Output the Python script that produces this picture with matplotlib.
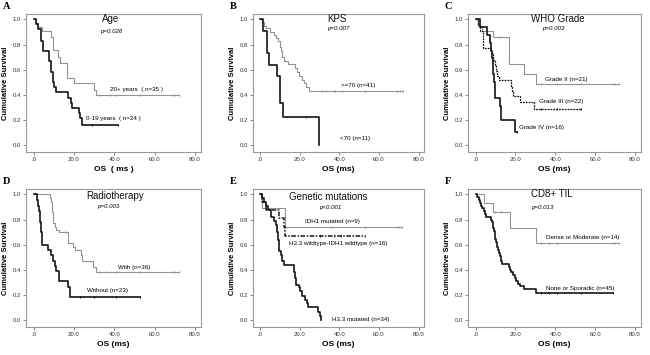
import matplotlib
matplotlib.use("Agg")
import matplotlib.pyplot as plt
import numpy as np

plt.rcParams['font.family'] = ['Liberation Sans', 'DejaVu Sans']

# ---- A: Age ----
age_old_t = [1, 2, 4, 8.5, 9.5, 12, 13, 16.6, 20, 30, 31]
age_old_s = [0.97, 0.94, 0.91, 0.86, 0.76, 0.70, 0.65, 0.53, 0.49, 0.44, 0.40]
age_old_cens = [33, 38, 41, 53, 69, 70, 72]
age_young_t = [1, 2, 3.5, 4.4, 7.4, 8.5, 9.4, 10, 11, 17, 18.3, 19, 22.4, 23.2, 24]
age_young_s = [0.96, 0.92, 0.83, 0.75, 0.67, 0.58, 0.50, 0.46, 0.42, 0.375, 0.33, 0.29, 0.25, 0.21, 0.16]
age_young_cens = [29, 42]

# ---- B: KPS ----
kps_high_t = [1, 2, 3, 5, 7, 8, 9, 10, 10.5, 11, 12, 14, 17.5, 18.5, 19.5, 21, 22, 23, 24.5]
kps_high_s = [0.98, 0.95, 0.93, 0.90, 0.88, 0.85, 0.83, 0.78, 0.75, 0.70, 0.67, 0.645,
              0.61, 0.58, 0.55, 0.52, 0.49, 0.46, 0.43]
kps_high_cens = [12.5, 31, 33, 37, 38, 41.5, 53, 69, 70.5, 72]
kps_low_t = [1.5, 3.2, 4.5, 8.2, 9.8, 11.5, 29.5]
kps_low_s = [0.91, 0.73, 0.64, 0.55, 0.33, 0.22, 0.0]
kps_low_cens = [23]

# ---- C: WHO grade ----
g2_t = [1, 3, 9, 17, 24.4, 30.4]
g2_s = [0.95, 0.905, 0.86, 0.645, 0.565, 0.485]
g2_cens = [12, 33, 41, 53, 69, 70, 72]
g3_t = [1, 2, 3.7, 7.5, 9, 10, 10.5, 11, 11.6, 17.8, 18.4, 19, 22.4, 29.4]
g3_s = [0.955, 0.91, 0.77, 0.73, 0.68, 0.64, 0.59, 0.55, 0.52, 0.47, 0.43, 0.39, 0.34, 0.285]
g3_cens = [33, 41, 53]
g4_t = [2, 5.5, 7, 7.5, 8, 8.5, 9, 9.3, 9.6, 10, 12.1, 12.8, 19.6]
g4_s = [0.94, 0.875, 0.81, 0.75, 0.69, 0.625, 0.5625, 0.5, 0.4375, 0.375, 0.31, 0.20, 0.10]
g4_cens = [12.4, 21]

# ---- D: Radiotherapy ----
rt_with_t = [8, 8.5, 9.3, 9.7, 10.5, 11.3, 12.4, 16.9, 19.7, 20.7, 23.5, 24, 29.7, 31]
rt_with_s = [0.97, 0.94, 0.86, 0.77, 0.74, 0.72, 0.70, 0.61, 0.58, 0.555, 0.52, 0.47, 0.42, 0.38]
rt_with_cens = [16, 33, 36, 41, 53, 69, 70, 72]
rt_without_t = [1.5, 2, 2.7, 3.3, 3.7, 4.3, 7.2, 8.5, 9.7, 10.5, 11.3, 12.4, 17, 18]
rt_without_s = [0.96, 0.91, 0.87, 0.78, 0.70, 0.60, 0.56, 0.52, 0.47, 0.43, 0.39, 0.31, 0.26, 0.18]
rt_without_cens = [23, 30, 41, 53]

# ---- E: Genetic mutations ----
idh_t = [0.8, 12.7]
idh_s = [0.89, 0.74]
idh_cens = [36, 53, 69, 70, 71.5]
wt_t = [1, 2.8, 9.4, 11.8, 12.7]
wt_s = [0.94, 0.875, 0.81, 0.74, 0.67]
wt_cens = [30, 37, 41, 53]
h33_t = [1, 2, 3, 4, 5.3, 7, 7.8, 8.3, 8.9, 9.2, 9.6, 10.2, 11, 11.9, 16.9, 17.1, 17.3,
         18, 19.3, 20.2, 21.3, 22.6, 23.5, 24.3, 29.3, 30, 30.6]
h33_s = [0.97, 0.94, 0.91, 0.88, 0.82, 0.79, 0.76, 0.70, 0.64, 0.59, 0.55, 0.52, 0.47, 0.44,
         0.41, 0.38, 0.33, 0.28, 0.26, 0.23, 0.19, 0.16, 0.13, 0.10, 0.065, 0.03, 0.0]
h33_cens = []

# ---- F: CD8+ TIL ----
dense_t = [4.1, 8.7, 17.3, 30.5]
dense_s = [0.93, 0.86, 0.73, 0.61]
dense_cens = [10, 13, 33, 37, 41, 69, 70, 72]
none_t = [0.8, 1.5, 2.2, 2.8, 3.3, 4, 4.6, 5.3, 7.5, 8, 8.5, 9, 9.3, 9.6, 9.8, 10, 10.3, 10.6,
          11, 11.5, 11.9, 12.3, 12.6, 12.9, 13.2, 16.8, 17.5, 18, 19, 19.7, 20.5, 21.5, 22.5,
          24.5, 30.5]
none_s = [0.978, 0.956, 0.933, 0.911, 0.889, 0.867, 0.844, 0.822, 0.80, 0.778, 0.756, 0.733,
          0.711, 0.689, 0.667, 0.644, 0.622, 0.60, 0.578, 0.556, 0.533, 0.511, 0.489, 0.467,
          0.444, 0.422, 0.40, 0.378, 0.356, 0.333, 0.311, 0.289, 0.267, 0.244, 0.21]
none_cens = [33, 37, 41, 53, 69]

GRAY = '#939393'
BLACK = '#151515'


def km_curve(ax, t, s, cens, color, lw, ls='-'):
    tt = np.array([0] + list(t), dtype=float)
    ss = np.array([1.0] + list(s), dtype=float)
    end = max([tt[-1]] + list(cens))
    tt = np.append(tt, end)
    ss = np.append(ss, ss[-1])
    ax.step(tt, ss, where='post', color=color, lw=lw, linestyle=ls)
    if cens:
        c = np.array(cens, dtype=float)
        idx = np.searchsorted(tt[:-1], c, side='right') - 1
        ax.plot(c, ss[idx], linestyle='none', marker='|', ms=2, mew=0.7, color=color)


def style_axes(ax, letter, title, ptext, xlabel, title_xy, p_xy):
    ax.set_xlim(-3.8, 83)
    ax.set_ylim(-0.058, 1.045)
    ax.set_xticks([0, 20, 40, 60, 80])
    ax.set_xticklabels(['.0', '20.0', '40.0', '60.0', '80.0'])
    ax.set_yticks([0, 0.2, 0.4, 0.6, 0.8, 1.0])
    ax.set_yticklabels(['0.0', '0.2', '0.4', '0.6', '0.8', '1.0'])
    ax.tick_params(labelsize=4.3, length=2, width=0.6, color='#777777',
                   labelcolor='#333333', pad=1.5)
    for sp in ax.spines.values():
        sp.set_color('#9a9a9a')
        sp.set_linewidth(0.8)
    ax.set_ylabel('Cumulative Survival', fontsize=5.5, fontweight='bold', labelpad=2.5)
    ax.set_xlabel(xlabel, fontsize=6, fontweight='bold', labelpad=3)
    ax.text(title_xy[0], title_xy[1], title, fontsize=7, ha='center', va='center',
            color='#111111')
    ax.text(p_xy[0], p_xy[1], ptext, fontsize=4.4, style='italic', ha='center', va='center')
    ax.text(-0.135, 1.02, letter, transform=ax.transAxes, fontsize=7.5, fontweight='bold',
            family='Liberation Serif', ha='left', va='bottom')


fig = plt.figure(figsize=(6.5, 3.55), dpi=100)
lefts = [0.040, 0.389, 0.720]
widths = [0.269, 0.264, 0.266]
bottoms = [0.572, 0.079]
H = 0.389
axes = []
for b in bottoms:
    for l, w in zip(lefts, widths):
        axes.append(fig.add_axes([l, b, w, H]))
axA, axB, axC, axD, axE, axF = axes

lbl = dict(fontsize=4.5, ha='left', va='center')

# A
km_curve(axA, age_old_t, age_old_s, age_old_cens, GRAY, 0.8)
km_curve(axA, age_young_t, age_young_s, age_young_cens, BLACK, 1.2)
style_axes(axA, 'A', 'Age', 'p=0.026', 'OS  ( ms )', (38, 1.0), (38.5, 0.9))
axA.text(37.7, 0.44, '20+ years  ( n=35 )', **lbl)
axA.text(26.2, 0.21, '0-19 years  ( n=24 )', **lbl)

# B
km_curve(axB, kps_high_t, kps_high_s, kps_high_cens, GRAY, 0.8)
km_curve(axB, kps_low_t, kps_low_s, kps_low_cens, BLACK, 1.2)
style_axes(axB, 'B', 'KPS', 'p=0.007', 'OS (ms)', (38.6, 1.0), (39.4, 0.93))
axB.text(40.7, 0.475, '>=70 (n=41)', **lbl)
axB.text(40.2, 0.05, '<70 (n=11)', **lbl)

# C
km_curve(axC, g2_t, g2_s, g2_cens, GRAY, 0.8)
km_curve(axC, g3_t, g3_s, g3_cens, BLACK, 0.9, (0, (1.5, 0.8)))
km_curve(axC, g4_t, g4_s, g4_cens, BLACK, 1.2)
style_axes(axC, 'C', 'WHO Grade', 'p=0.003', 'OS (ms)', (41.5, 1.0), (39, 0.925))
axC.text(34.8, 0.52, 'Grade II (n=21)', **lbl)
axC.text(31.9, 0.345, 'Grade III (n=22)', **lbl)
axC.text(22, 0.136, 'Grade IV (n=16)', **lbl)

# D
km_curve(axD, rt_with_t, rt_with_s, rt_with_cens, GRAY, 0.8)
km_curve(axD, rt_without_t, rt_without_s, rt_without_cens, BLACK, 1.2)
style_axes(axD, 'D', 'Radiotherapy', 'p=0.003', 'OS (ms)', (40.2, 0.985), (36.9, 0.905))
axD.text(41.9, 0.42, 'With (n=36)', **lbl)
axD.text(26.7, 0.23, 'Without (n=23)', **lbl)

# E
km_curve(axE, idh_t, idh_s, idh_cens, GRAY, 0.8)
km_curve(axE, wt_t, wt_s, wt_cens, BLACK, 1.1, (0, (3, 1, 1, 1)))
km_curve(axE, h33_t, h33_s, h33_cens, BLACK, 1.2)
style_axes(axE, 'E', 'Genetic mutations', 'p<0.001', 'OS (ms)', (34.2, 0.98), (35.5, 0.9))
axE.text(22.7, 0.785, 'IDH1 mutated (n=9)', **lbl)
axE.text(14.4, 0.61, 'H3.3 wildtype-IDH1 wildtype (n=16)', **lbl)
axE.text(36.2, 0.0, 'H3.3 mutated (n=34)', **lbl)

# F
km_curve(axF, dense_t, dense_s, dense_cens, GRAY, 0.8)
km_curve(axF, none_t, none_s, none_cens, BLACK, 1.2)
style_axes(axF, 'F', 'CD8+ TIL', 'p=0.013', 'OS (ms)', (38.2, 1.0), (33.3, 0.9))
axF.text(35.4, 0.66, 'Dense or Moderate (n=14)', **lbl)
axF.text(35.4, 0.25, 'None or Sporadic (n=45)', **lbl)

fig.savefig('out.png', dpi=100)
